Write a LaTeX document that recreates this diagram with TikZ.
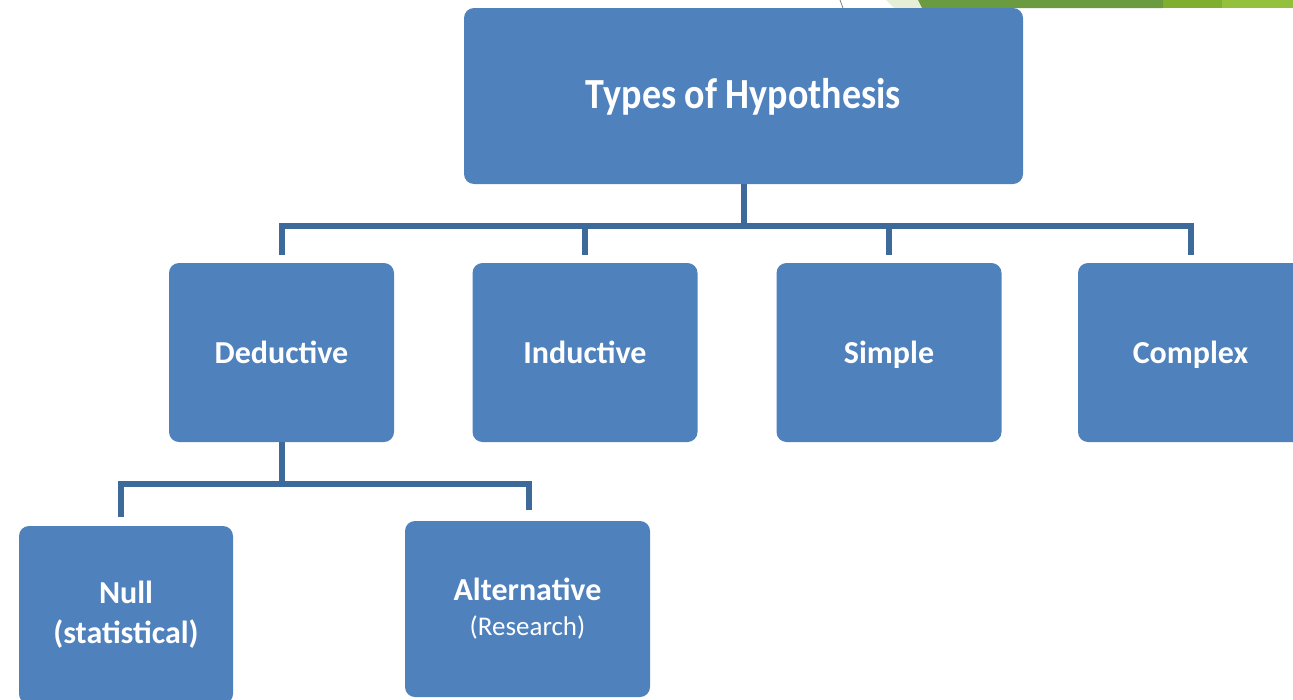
\documentclass[tikz,border=0pt]{standalone}
\usepackage{fontspec}
\setmainfont{Carlito}
\definecolor{boxblue}{HTML}{4F81BD}
\definecolor{lineblue}{HTML}{3E6A9B}
\definecolor{lgreen}{HTML}{E6EFD6}
\definecolor{dgreen}{HTML}{6A9B41}
\definecolor{mgreen}{HTML}{7EAF2F}
\definecolor{bgreen}{HTML}{93C13E}
\begin{document}
\begin{tikzpicture}[x=1pt,y=-1pt,
  hbox/.style={fill=boxblue, draw=none, rounded corners=10pt, text=white, inner sep=0pt, align=center},
  lvl2/.style={hbox, minimum width=225pt, minimum height=179pt, text height=21pt, text depth=0pt, font=\bfseries\fontsize{32}{40}\selectfont},
  conn/.style={draw=lineblue, line width=6pt, line join=miter}]
\useasboundingbox (0,0) rectangle (1293,699);
\clip (0,0) rectangle (1293,699);
% top decoration
\fill[lgreen] (886,0) -- (918,0) -- (922,8) -- (894,8) -- cycle;
\fill[dgreen] (918,0) -- (1163,0) -- (1163,8) -- (922,8) -- cycle;
\fill[mgreen] (1163,0) rectangle (1222,8);
\fill[bgreen] (1222,0) rectangle (1293,8);
\draw[gray, line width=0.8pt] (840,0) -- (843,8);
% boxes
\node[hbox, minimum width=559pt, minimum height=176pt, text height=24pt, text depth=0pt, font=\bfseries\fontsize{38}{44}\selectfont] (top) at (743.5,96) {\scalebox{1}[1.13]{Types of Hypothesis}};
\node[lvl2] (ded) at (281.5,352.5) {Deductive};
\node[lvl2] (ind) at (585,352.5) {Inductive};
\node[lvl2] (sim) at (889,352.5) {Simple};
\node[lvl2] (com) at (1190.5,352.5) {Complex};
\node[hbox, minimum width=214pt, minimum height=178pt, font=\bfseries\fontsize{32}{40}\selectfont] (nul) at (126,615) {Null\\(statistical)};
\node[hbox, minimum width=245pt, minimum height=176pt, font=\fontsize{27}{35}\selectfont] (alt) at (527.5,609)
  {{\bfseries\fontsize{32}{35}\selectfont Alternative}\\(Research)};
% connectors
\coordinate (bus) at (743,226);
\coordinate (sub) at (282,484);
\draw[conn] (top.south) -- (top.south |- bus);
\draw[conn, shorten <=8pt] (ded.north) |- (bus);
\draw[conn, shorten <=8pt] (ind.north) |- (bus);
\draw[conn, shorten <=8pt] (sim.north) |- (bus);
\draw[conn, shorten <=8pt] (com.north) |- (bus);
\draw[conn] (ded.south) -- (ded.south |- sub);
\draw[conn, shorten <=9pt] ([xshift=-5pt]nul.north) |- (sub);
\draw[conn, shorten <=11pt] ([xshift=1.5pt]alt.north) |- (sub);
\end{tikzpicture}
\end{document}
